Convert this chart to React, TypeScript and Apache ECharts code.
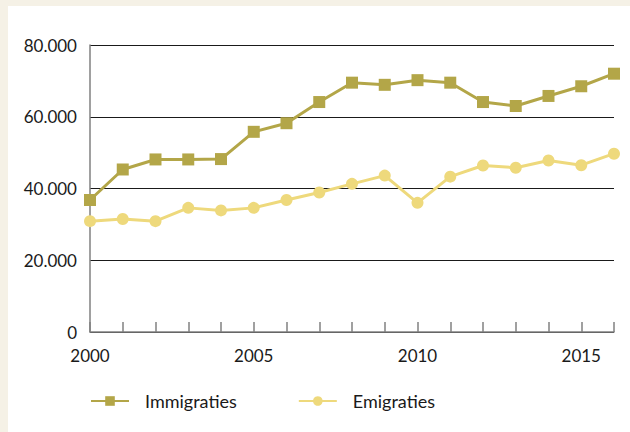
import React, { useEffect, useRef } from "react";
import * as echarts from "echarts";

const years = ["2000","2001","2002","2003","2004","2005","2006","2007","2008","2009","2010","2011","2012","2013","2014","2015","2016"];
const immigraties = [36800, 45300, 48100, 48100, 48200, 55800, 58200, 64100, 69500, 68900, 70200, 69500, 64100, 63000, 65800, 68500, 72000];
const emigraties = [30900, 31500, 30900, 34600, 33900, 34600, 36800, 38900, 41300, 43600, 36000, 43300, 46400, 45800, 47800, 46500, 49700];
const seriesNames = ["Immigraties", "Emigraties"];

const FONT = "Lato";

export default function App() {
  const ref = useRef<HTMLDivElement>(null);
  useEffect(() => {
    const chart = echarts.init(ref.current!, null, { renderer: "svg" });
    chart.setOption({
      animation: false,
      backgroundColor: "#ffffff",
      grid: { left: 82, top: 39, right: 16, bottom: 100, containLabel: false },
      legend: {
        left: 82,
        top: 386,
        padding: 0,
        itemWidth: 38,
        itemHeight: 12,
        itemGap: 61,
        textStyle: { fontFamily: FONT, fontSize: 18, color: "#1a1a1a", padding: [0, 0, 0, 11] },
        data: seriesNames,
      },
      xAxis: {
        type: "category",
        data: years,
        boundaryGap: false,
        axisLine: { lineStyle: { color: "#808080", width: 1.5 } },
        axisTick: { inside: true, length: 10, interval: 0, lineStyle: { color: "#808080", width: 1.5 } },
        axisLabel: { interval: 4, margin: 15, fontFamily: FONT, fontSize: 17, color: "#1a1a1a" },
        splitLine: { show: false },
      },
      yAxis: {
        type: "value",
        min: 0,
        max: 80000,
        interval: 20000,
        axisLine: { show: true, lineStyle: { color: "#808080", width: 1.5 } },
        axisTick: { show: false },
        axisLabel: {
          margin: 13,
          fontFamily: FONT,
          fontSize: 17,
          color: "#1a1a1a",
          formatter: (v: number) => (v === 0 ? "0" : (v / 1000).toFixed(0) + ".000"),
        },
        splitLine: { lineStyle: { color: "#1a1a1a", width: 1 } },
      },
      series: [
        {
          name: seriesNames[0],
          type: "line",
          data: immigraties,
          symbol: "rect",
          symbolSize: 12,
          lineStyle: { color: "#b3a648", width: 3 },
          itemStyle: { color: "#b3a648" },
          z: 3,
        },
        {
          name: seriesNames[1],
          type: "line",
          data: emigraties,
          symbol: "circle",
          symbolSize: 12,
          lineStyle: { color: "#eed97c", width: 3 },
          itemStyle: { color: "#eed97c" },
          z: 2,
        },
      ],
    });
    return () => chart.dispose();
  }, []);
  return (
    <div style={{ position: "fixed", left: 0, top: 0, width: 630, height: 432, background: "#f5f1e6" }}>
      <div ref={ref} style={{ position: "absolute", left: 8, top: 6, width: 622, height: 426 }} />
    </div>
  );
}
